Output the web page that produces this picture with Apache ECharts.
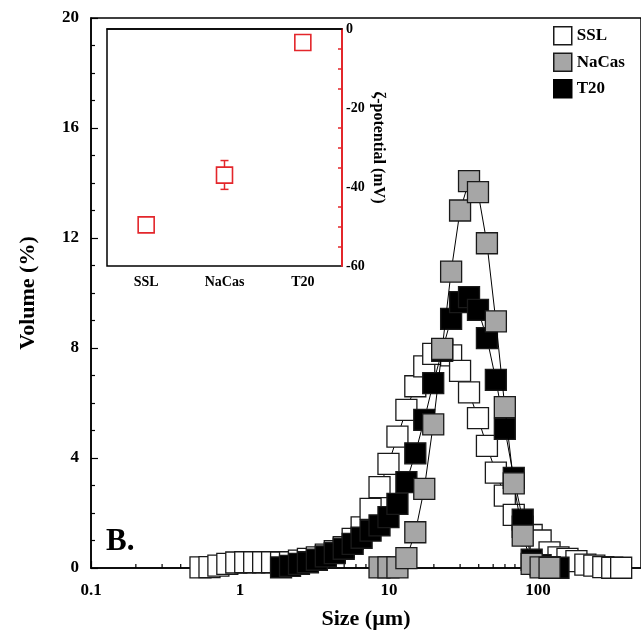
<!DOCTYPE html>
<html>
<head>
<meta charset="utf-8">
<script src="https://cdn.jsdelivr.net/npm/echarts@6.0.0/dist/echarts.min.js"></script>
<style>
  html, body { margin: 0; padding: 0; background: #fff; }
  #chart { width: 641px; height: 637px; }
</style>
</head>
<body>
<div id="chart"></div>
<script>
var sizeBins = [
  0.543, 0.624, 0.716, 0.822, 0.944, 1.084, 1.245, 1.430, 1.642, 1.886,
  2.166, 2.487, 2.856, 3.280, 3.766, 4.325, 4.966, 5.702, 6.549, 7.520,
  8.636, 9.915, 11.39, 13.08, 15.01, 17.24, 19.80, 22.74, 26.11, 29.98,
  34.43, 39.54, 45.40, 52.13, 59.87, 68.74, 78.94, 90.64, 104.1, 119.5,
  137.2, 157.6, 181.0, 207.8, 238.7, 274.1, 314.8, 361.4
];

// volume % per bin, null where no square is drawn
var sslVol = [
  0.02, 0.03, 0.09, 0.15, 0.20, 0.21, 0.21, 0.21, 0.21, 0.20,
  0.21, 0.27, 0.33, 0.39, 0.49, 0.61, 0.76, 1.06, 1.48, 2.15,
  2.94, 3.79, 4.78, 5.75, 6.61, 7.33, 7.79, 7.95, 7.73, 7.17,
  6.39, 5.45, 4.44, 3.47, 2.63, 1.93, 1.50, 1.20, 1.00, 0.57,
  0.39, 0.33, 0.25, 0.12, 0.09, 0.03, 0.01, 0.01
];
var nacasVol = [
  null, null, null, null, null, null, null, null, null, null,
  null, null, null, null, null, null, null, null, null, null,
  0.02, 0.02, 0.02, 0.36, 1.30, 2.88, 5.22, 7.97, 10.78, 13.00,
  14.07, 13.67, 11.81, 8.97, 5.85, 3.08, 1.18, 0.15, 0.02, 0.01,
  null, null, null, null, null, null, null, null
];
var t20Vol = [
  null, null, null, null, null, null, null, null, null, 0.02,
  0.08, 0.15, 0.21, 0.30, 0.42, 0.54, 0.70, 0.88, 1.10, 1.36,
  1.55, 1.85, 2.33, 3.12, 4.17, 5.39, 6.72, 7.90, 9.06, 9.67,
  9.85, 9.39, 8.36, 6.84, 5.06, 3.28, 1.76, 0.30, 0.10, 0.03,
  0.01, null, null, null, null, null, null, null
];

// minor ticks of the log axis
var xMinorTicks = [0.2, 0.3, 0.4, 0.5, 0.6, 0.7, 0.8, 0.9,
  2, 3, 4, 5, 6, 7, 8, 9, 20, 30, 40, 50, 60, 70, 80, 90, 200, 300, 400];

// inset: zeta potential (mV)
var zetaCats = ['SSL', 'NaCas', 'T20'];
var zetaMean = [-49.6, -37.0, -3.4];
var zetaLow = [-49.6, -40.6, -3.4];
var zetaHigh = [-49.6, -33.3, -3.4];

var FONT = '"Liberation Serif", "Times New Roman", serif';
var RED = '#e3262b';

var chart = echarts.init(document.getElementById('chart'));

function volSeries(name, vals, fill, z) {
  var pts = [];
  sizeBins.forEach(function (s, i) {
    if (vals[i] != null) pts.push([s, vals[i]]);
  });
  return {
    name: name,
    type: 'line',
    xAxisIndex: 0,
    yAxisIndex: 0,
    z: z,
    data: pts,
    symbol: 'rect',
    symbolSize: 21,
    showAllSymbol: true,
    lineStyle: { color: '#000', width: 1 },
    itemStyle: { color: fill, borderColor: '#1a1a1a', borderWidth: 1.3, opacity: 1 },
    emphasis: { disabled: true }
  };
}

var boldText = { fontFamily: FONT, fontWeight: 'bold', color: '#000' };

var option = {
  animation: false,
  backgroundColor: '#fff',
  grid: [
    { left: 91, top: 18, right: -1, bottom: 69, show: true, borderColor: '#000', borderWidth: 1.5 },
    { left: 107, top: 29, width: 235, height: 237, show: true, borderColor: '#000', borderWidth: 1.5, backgroundColor: '#fff' }
  ],
  legend: {
    orient: 'vertical',
    left: 548,
    top: 21,
    itemWidth: 18,
    itemHeight: 18,
    itemGap: 7,
    icon: 'rect',
    selectedMode: false,
    textStyle: Object.assign({ fontSize: 17 }, boldText),
    data: [
      { name: 'SSL', itemStyle: { color: '#fff', borderColor: '#1a1a1a', borderWidth: 1.5 } },
      { name: 'NaCas', itemStyle: { color: '#a6a6a6', borderColor: '#1a1a1a', borderWidth: 1.5 } },
      { name: 'T20', itemStyle: { color: '#000', borderColor: '#000', borderWidth: 1.5 } }
    ]
  },
  graphic: [
    { type: 'text', left: 106, top: 526, z: 20, style: { text: 'B.', font: 'bold 31px ' + FONT, fill: '#000' } }
  ],
  xAxis: [
    {
      type: 'log',
      logBase: 10,
      gridIndex: 0,
      min: 0.1,
      max: 491,
      axisLine: { lineStyle: { color: '#000', width: 1.5 } },
      axisTick: { inside: true, length: 7, lineStyle: { color: '#000', width: 1.2 } },
      axisLabel: Object.assign({
        fontSize: 17,
        margin: 14,
        showMaxLabel: false,
        formatter: function (v) {
          var l = Math.log10(v);
          if (Math.abs(l - Math.round(l)) > 1e-6) return '';
          return v < 1 ? '0.1' : String(Math.round(v));
        }
      }, boldText),
      splitLine: { show: false },
      name: 'Size (µm)',
      nameLocation: 'middle',
      nameGap: 40,
      nameTextStyle: Object.assign({ fontSize: 22 }, boldText)
    },
    {
      type: 'category',
      gridIndex: 1,
      data: zetaCats,
      axisLine: { lineStyle: { color: '#000', width: 1.5 } },
      axisTick: { show: false },
      axisLabel: Object.assign({ fontSize: 14, margin: 9, interval: 0 }, boldText),
      splitLine: { show: false }
    }
  ],
  yAxis: [
    {
      type: 'value',
      gridIndex: 0,
      min: 0,
      max: 20,
      interval: 4,
      axisLine: { show: true, lineStyle: { color: '#000', width: 1.5 } },
      axisTick: { inside: true, length: 7, lineStyle: { color: '#000', width: 1.2 } },
      minorTick: { show: true, splitNumber: 4, length: 4, lineStyle: { color: '#000', width: 1.2 } },
      axisLabel: Object.assign({ fontSize: 17, margin: 12 }, boldText),
      splitLine: { show: false },
      name: 'Volume (%)',
      nameLocation: 'middle',
      nameGap: 52,
      nameRotate: 90,
      nameTextStyle: Object.assign({ fontSize: 22 }, boldText)
    },
    {
      type: 'value',
      gridIndex: 1,
      position: 'right',
      min: -60,
      max: 0,
      interval: 20,
      axisLine: { show: true, lineStyle: { color: RED, width: 2 } },
      axisTick: { inside: true, length: 6, lineStyle: { color: RED, width: 1.5 } },
      minorTick: { show: true, splitNumber: 4, length: 4, lineStyle: { color: RED, width: 1.5 } },
      axisLabel: Object.assign({ fontSize: 14, margin: 4 }, boldText),
      splitLine: { show: false },
      name: 'ζ-potential (mV)',
      nameLocation: 'middle',
      nameGap: 28,
      nameRotate: -90,
      nameTextStyle: Object.assign({ fontSize: 16 }, boldText)
    }
  ],
  series: [
    {
      type: 'custom',
      xAxisIndex: 0,
      yAxisIndex: 0,
      silent: true,
      z: 1,
      data: xMinorTicks.map(function (v) { return [v, 0]; }),
      renderItem: function (params, api) {
        var p = api.coord([api.value(0), 0]);
        return {
          type: 'line',
          shape: { x1: p[0], y1: p[1], x2: p[0], y2: p[1] - 4 },
          style: { stroke: '#000', lineWidth: 1.2 }
        };
      }
    },
    volSeries('SSL', sslVol, '#fff', 2),
    volSeries('T20', t20Vol, '#000', 3),
    volSeries('NaCas', nacasVol, '#a6a6a6', 4),
    {
      type: 'custom',
      xAxisIndex: 1,
      yAxisIndex: 1,
      silent: true,
      z: 5,
      data: zetaCats.map(function (c, i) { return [i, zetaLow[i], zetaHigh[i]]; }),
      renderItem: function (params, api) {
        var lo = api.coord([api.value(0), api.value(1)]);
        var hi = api.coord([api.value(0), api.value(2)]);
        if (Math.abs(lo[1] - hi[1]) < 1) return null;
        var style = { stroke: RED, lineWidth: 1.5 };
        return {
          type: 'group',
          children: [
            { type: 'line', shape: { x1: lo[0], y1: lo[1], x2: hi[0], y2: hi[1] }, style: style },
            { type: 'line', shape: { x1: lo[0] - 4, y1: lo[1], x2: lo[0] + 4, y2: lo[1] }, style: style },
            { type: 'line', shape: { x1: hi[0] - 4, y1: hi[1], x2: hi[0] + 4, y2: hi[1] }, style: style }
          ]
        };
      }
    },
    {
      name: 'zeta',
      type: 'scatter',
      xAxisIndex: 1,
      yAxisIndex: 1,
      z: 6,
      symbol: 'rect',
      symbolSize: 16,
      data: zetaMean,
      itemStyle: { color: '#fff', borderColor: RED, borderWidth: 1.6, opacity: 1 },
      emphasis: { disabled: true }
    }
  ]
};

chart.setOption(option);
</script>
</body>
</html>
